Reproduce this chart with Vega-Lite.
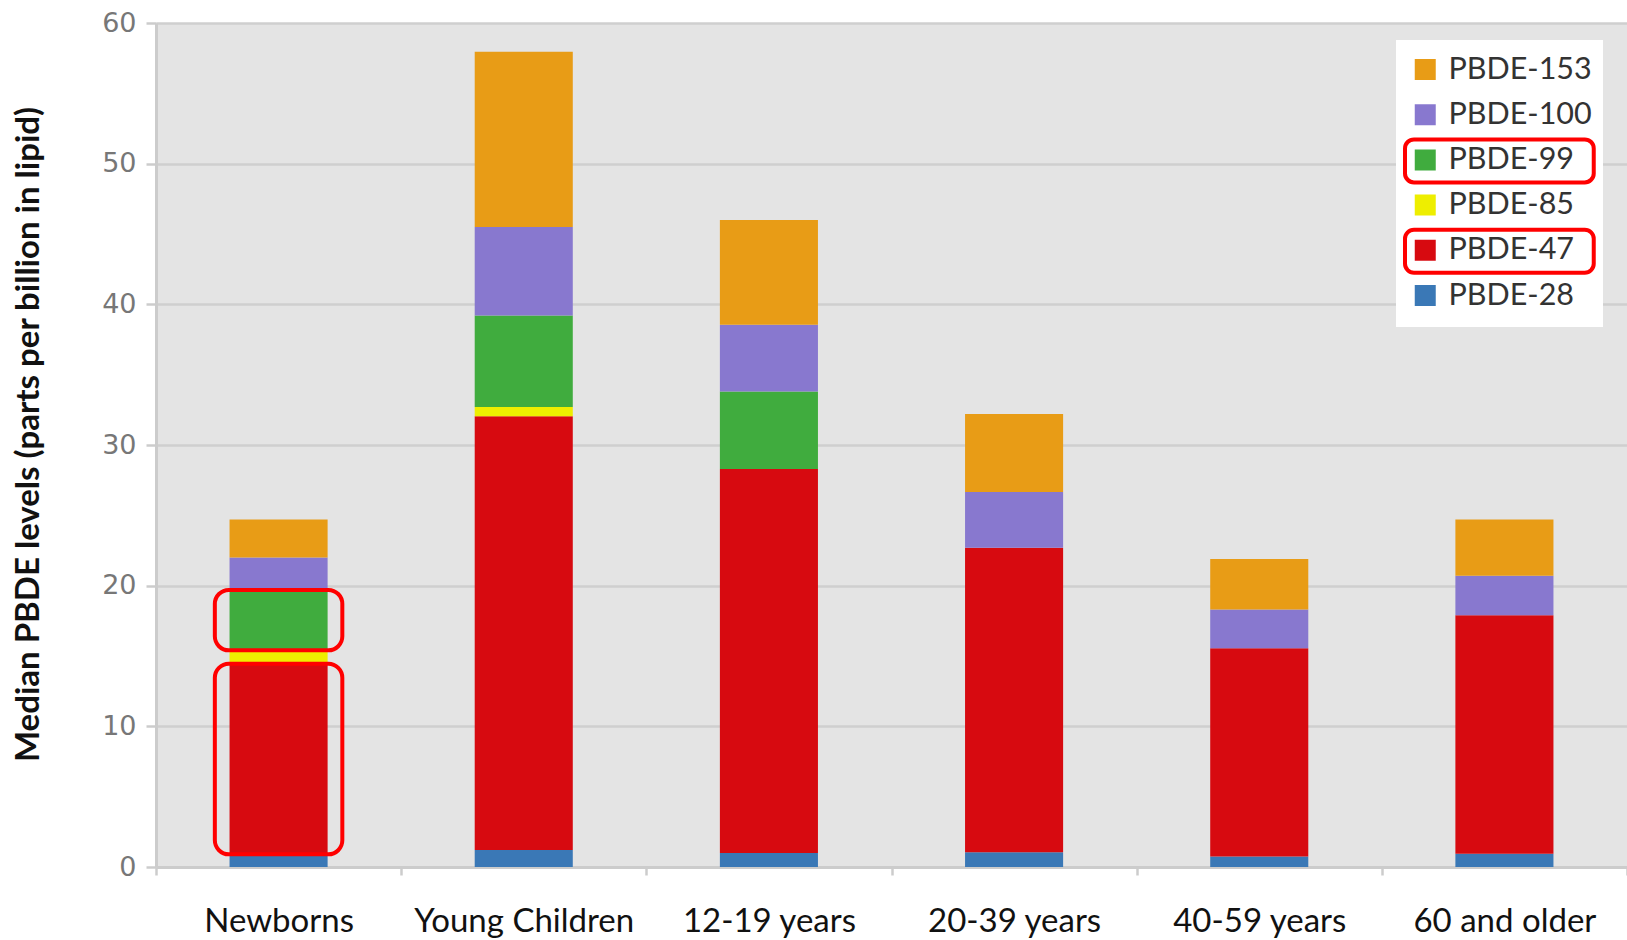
{
  "$schema": "https://vega.github.io/schema/vega-lite/v6.json",
  "width": 1471,
  "height": 844,
  "autosize": {"type": "none"},
  "padding": {"left": 156, "top": 23, "right": 0, "bottom": 73},
  "background": "#ffffff",
  "config": {
    "view": {"fill": "#e4e4e4", "stroke": null},
    "font": "Lato"
  },
  "data": {
    "values": [
      {"group": "Newborns", "congener": "PBDE-28", "layer": 1, "value": 0.9},
      {"group": "Newborns", "congener": "PBDE-47", "layer": 2, "value": 13.55},
      {"group": "Newborns", "congener": "PBDE-85", "layer": 3, "value": 0.95},
      {"group": "Newborns", "congener": "PBDE-99", "layer": 4, "value": 4.3},
      {"group": "Newborns", "congener": "PBDE-100", "layer": 5, "value": 2.3},
      {"group": "Newborns", "congener": "PBDE-153", "layer": 6, "value": 2.7},
      {"group": "Young Children", "congener": "PBDE-28", "layer": 1, "value": 1.2},
      {"group": "Young Children", "congener": "PBDE-47", "layer": 2, "value": 30.85},
      {"group": "Young Children", "congener": "PBDE-85", "layer": 3, "value": 0.65},
      {"group": "Young Children", "congener": "PBDE-99", "layer": 4, "value": 6.5},
      {"group": "Young Children", "congener": "PBDE-100", "layer": 5, "value": 6.3},
      {"group": "Young Children", "congener": "PBDE-153", "layer": 6, "value": 12.45},
      {"group": "12-19 years", "congener": "PBDE-28", "layer": 1, "value": 1.0},
      {"group": "12-19 years", "congener": "PBDE-47", "layer": 2, "value": 27.3},
      {"group": "12-19 years", "congener": "PBDE-99", "layer": 4, "value": 5.5},
      {"group": "12-19 years", "congener": "PBDE-100", "layer": 5, "value": 4.75},
      {"group": "12-19 years", "congener": "PBDE-153", "layer": 6, "value": 7.45},
      {"group": "20-39 years", "congener": "PBDE-28", "layer": 1, "value": 1.05},
      {"group": "20-39 years", "congener": "PBDE-47", "layer": 2, "value": 21.65},
      {"group": "20-39 years", "congener": "PBDE-100", "layer": 5, "value": 3.95},
      {"group": "20-39 years", "congener": "PBDE-153", "layer": 6, "value": 5.55},
      {"group": "40-59 years", "congener": "PBDE-28", "layer": 1, "value": 0.75},
      {"group": "40-59 years", "congener": "PBDE-47", "layer": 2, "value": 14.8},
      {"group": "40-59 years", "congener": "PBDE-100", "layer": 5, "value": 2.75},
      {"group": "40-59 years", "congener": "PBDE-153", "layer": 6, "value": 3.6},
      {"group": "60 and older", "congener": "PBDE-28", "layer": 1, "value": 0.95},
      {"group": "60 and older", "congener": "PBDE-47", "layer": 2, "value": 16.95},
      {"group": "60 and older", "congener": "PBDE-100", "layer": 5, "value": 2.8},
      {"group": "60 and older", "congener": "PBDE-153", "layer": 6, "value": 4.0}
    ]
  },
  "resolve": {"axis": {"y": "independent"}},
  "encoding": {
    "x": {
      "field": "group",
      "type": "nominal",
      "sort": ["Newborns", "Young Children", "12-19 years", "20-39 years", "40-59 years", "60 and older"],
      "scale": {"paddingInner": 0, "paddingOuter": 0},
      "axis": {
        "title": null,
        "labelAngle": 0,
        "labelFont": "Lato",
        "labelFontSize": 33,
        "labelColor": "#111111",
        "labelPadding": 30,
        "labelLimit": 400,
        "tickBand": "extent",
        "ticks": true,
        "tickSize": 8,
        "tickWidth": 2.5,
        "tickColor": "#cccccc",
        "domain": true,
        "domainColor": "#cccccc",
        "domainWidth": 3,
        "grid": false
      }
    }
  },
  "layer": [
    {
      "mark": {"type": "bar", "width": {"band": 0.4}},
      "encoding": {
        "y": {
          "field": "value",
          "type": "quantitative",
          "stack": "zero",
          "scale": {"domain": [0, 60], "nice": false},
          "axis": {
            "title": "Median PBDE levels (parts per billion in lipid)",
            "titleFont": "Lato",
            "titleFontSize": 33,
            "titleFontWeight": "bold",
            "titleColor": "#111111",
            "titleX": -128,
            "titleY": 411,
            "titleAlign": "center",
            "titleBaseline": "middle",
            "titleAngle": 270,
            "values": [0, 10, 20, 30, 40, 50, 60],
            "labelFont": "DejaVu Sans",
            "labelFontSize": 27,
            "labelColor": "#777777",
            "labelPadding": 10,
            "grid": true,
            "gridColor": "#cfcfcf",
            "gridWidth": 2.5,
            "ticks": true,
            "tickSize": 10,
            "tickWidth": 2.5,
            "tickColor": "#cccccc",
            "domain": true,
            "domainColor": "#cccccc",
            "domainWidth": 3
          }
        },
        "order": {"field": "layer", "type": "quantitative", "sort": "ascending"},
        "color": {
          "field": "congener",
          "type": "nominal",
          "scale": {
            "domain": ["PBDE-153", "PBDE-100", "PBDE-99", "PBDE-85", "PBDE-47", "PBDE-28"],
            "range": ["#e89c16", "#8878cf", "#40ac3e", "#eeee00", "#d70a10", "#3a78b6"]
          },
          "legend": {
            "title": null,
            "orient": "none",
            "legendX": 1240,
            "legendY": 17,
            "fillColor": "#ffffff",
            "padding": 9,
            "clipHeight": 41,
            "symbolType": "square",
            "symbolSize": 441,
            "symbolOffset": 5,
            "symbolStrokeWidth": 0,
            "labelFont": "Lato",
            "labelFontSize": 30.5,
            "labelColor": "#333333",
            "labelOffset": 8,
            "rowPadding": 0.2,
            "labelLimit": 300,
            "encode": {
              "entries": {
                "update": {
                  "stroke": [
                    {"test": "datum.index === 2 || datum.index === 4", "value": "#ff0000"},
                    {"value": "transparent"}
                  ],
                  "strokeWidth": {"value": 4},
                  "cornerRadius": {"value": 9},
                  "width": {"value": 184},
                  "height": {"value": 41}
                }
              }
            }
          }
        }
      }
    },
    {
      "transform": [
        {"stack": "value", "groupby": ["group"], "sort": [{"field": "layer", "order": "ascending"}], "as": ["y_lo", "y_hi"]},
        {"filter": "datum.group === 'Newborns' && (datum.congener === 'PBDE-99' || datum.congener === 'PBDE-47')"}
      ],
      "mark": {
        "type": "bar",
        "width": {"band": 0.52},
        "fill": "transparent",
        "stroke": "#ff0000",
        "strokeWidth": 4,
        "cornerRadius": 14
      },
      "encoding": {
        "y": {"field": "y_lo", "type": "quantitative", "axis": null},
        "y2": {"field": "y_hi"}
      }
    }
  ]
}
